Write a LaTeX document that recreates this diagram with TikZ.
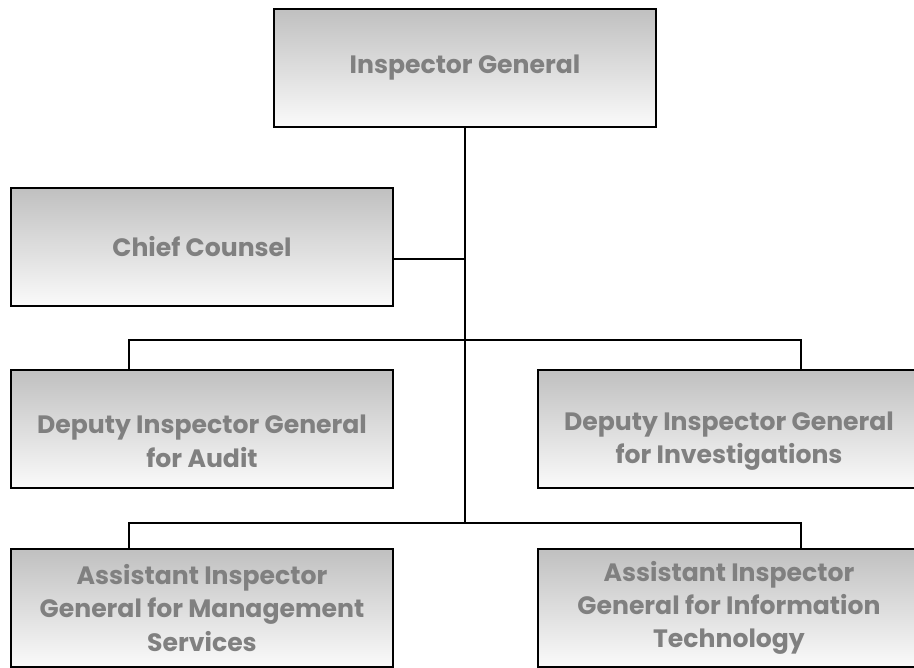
\documentclass[tikz,border=0pt]{standalone}
\usepackage{fontspec}
\setmainfont{Poppins}
\usepackage{tikz}
\usepackage{xcolor}
\usetikzlibrary{positioning}

\definecolor{boxtop}{RGB}{192,192,192}
\definecolor{boxbot}{RGB}{250,250,250}
\definecolor{boxtext}{RGB}{128,128,128}

\begin{document}
\begin{tikzpicture}[x=0.02cm, y=-0.02cm,
        orgbox/.style={rectangle, draw=black, line width=1.1pt, top color=boxtop, bottom color=boxbot,
            minimum width=384*0.02cm-1.1pt, minimum height=120*0.02cm-1.1pt, inner sep=0pt,
            text=boxtext, align=center, font=\fontsize{14.3}{18.8}\selectfont\bfseries},
        lbl/.style={text=boxtext, align=center, font=\fontsize{14.3}{18.8}\selectfont\bfseries},
        link/.style={draw=black, line width=1pt}]
            \useasboundingbox (0,0) rectangle (914,667);
            \clip (0,0) rectangle (914,667);

            \node[orgbox] (ig) at (465, 68) {Inspector General};
            \node[orgbox] (cc) at (202, 247) {Chief Counsel};
            \node[orgbox, label={[lbl, yshift=-7pt]center:Deputy Inspector General\\for Audit}] (dia) at (202, 429) {};
            \node[orgbox, label={[lbl, yshift=-7pt]center:Deputy Inspector General\\for Investigations}] (dii) at (729, 429) {};
            \node[orgbox] (aim) at (202, 608) {Assistant Inspector\\General for Management\\Services};
            \node[orgbox] (ait) at (729, 608) {Assistant Inspector\\General for Information\\Technology};

            \coordinate (jc) at (465, 259);
            \coordinate (j1) at (465, 340);
            \coordinate (j2) at (465, 523);
            \coordinate (l1) at (129, 340);
            \coordinate (r1) at (801, 340);
            \coordinate (l2) at (129, 523);
            \coordinate (r2) at (801, 523);

            \draw[link] (ig.south) -- (j2);
            \draw[link] (cc.east |- jc) -- (jc);
            \draw[link] (dia.north -| l1) -- (l1) -- (r1) -- (dii.north -| r1);
            \draw[link] (aim.north -| l2) -- (l2) -- (r2) -- (ait.north -| r2);
        \end{tikzpicture}
\end{document}
